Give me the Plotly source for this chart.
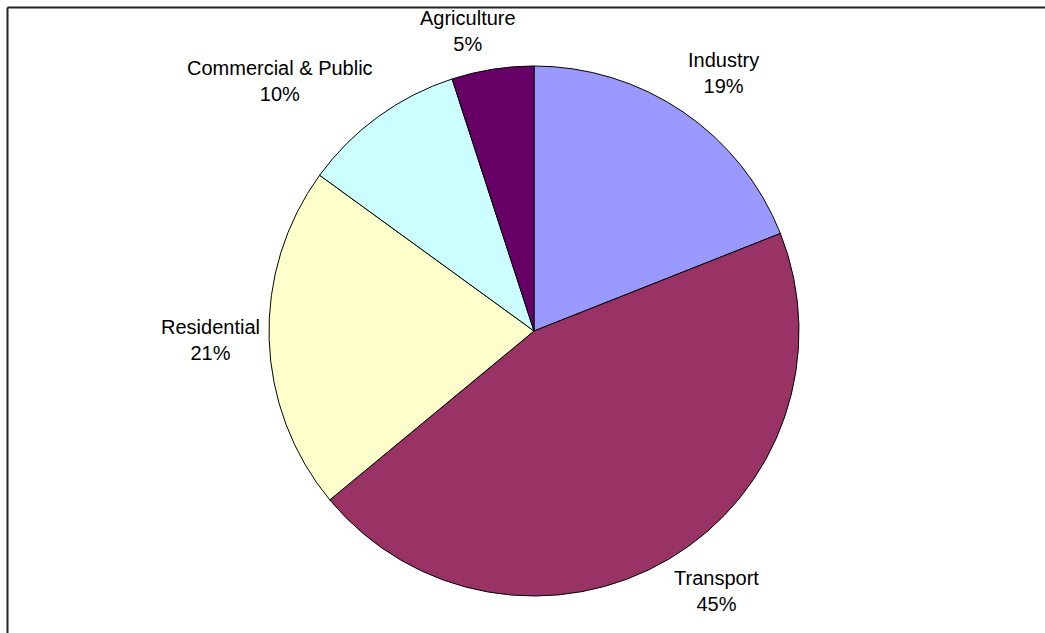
import plotly.graph_objects as go

# Energy consumption share by sector (%)
sectors = ["Industry", "Transport", "Residential", "Commercial & Public", "Agriculture"]
shares = [19, 45, 21, 10, 5]
slice_colors = ["#9999FF", "#993366", "#FFFFCC", "#CCFFFF", "#660066"]

# Label centres in pixels (x from left, y from top)
label_px = [(723, 73), (716, 591), (210, 340), (280, 81), (468, 31)]

W, H = 1045, 633
cx, cy, r = 534, 331, 265

fig = go.Figure(go.Pie(
    labels=sectors,
    values=shares,
    sort=False,
    direction="clockwise",
    rotation=0,
    marker=dict(colors=slice_colors, line=dict(color="#000000", width=1)),
    textinfo="none",
    hoverinfo="skip",
    showlegend=False,
    domain=dict(x=[(cx - r) / W, (cx + r) / W], y=[1 - (cy + r) / H, 1 - (cy - r) / H]),
))

total = sum(shares)
for name, val, (px, py) in zip(sectors, shares, label_px):
    fig.add_annotation(
        x=px / W, y=1 - py / H, xref="paper", yref="paper",
        text=f"{name}<br>{round(100 * val / total)}%",
        showarrow=False, align="center",
        font=dict(family="Liberation Sans, Arial, sans-serif", size=20, color="#000000"),
        xanchor="center", yanchor="middle",
    )

# Chart area frame: left and top edges only (the rest runs off the page)
frame = dict(color="#222222", width=2)
fig.add_shape(type="line", xref="paper", yref="paper",
              x0=7.5 / W, x1=7.5 / W, y0=0, y1=1 - 7.5 / H, line=frame)
fig.add_shape(type="line", xref="paper", yref="paper",
              x0=7.5 / W, x1=1, y0=1 - 7.5 / H, y1=1 - 7.5 / H, line=frame)

fig.update_layout(
    width=W, height=H,
    margin=dict(l=0, r=0, t=0, b=0),
    paper_bgcolor="#FFFFFF",
    plot_bgcolor="#FFFFFF",
)

fig.write_html("out.html")
